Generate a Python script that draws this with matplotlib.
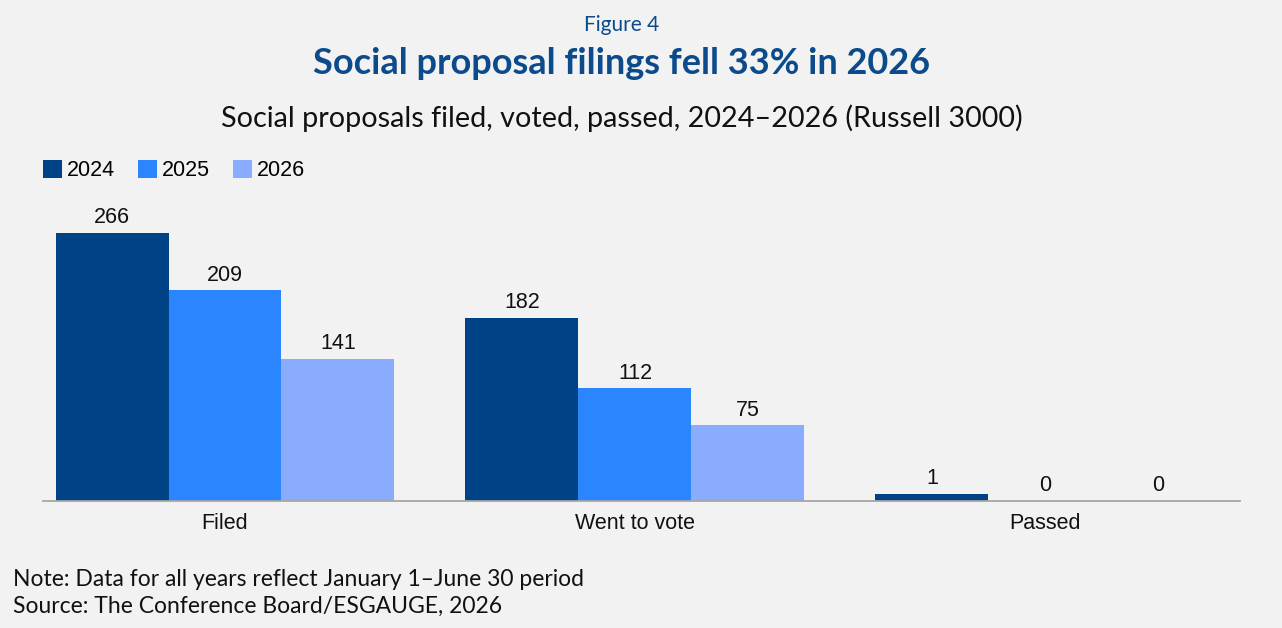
import matplotlib
matplotlib.use("Agg")
import matplotlib.pyplot as plt
from matplotlib.patches import Patch
import numpy as np

categories = ["Filed", "Went to vote", "Passed"]
years = ["2024", "2025", "2026"]
v2024 = [266, 182, 1]
v2025 = [209, 112, 0]
v2026 = [141, 75, 0]
colors = ["#004286", "#2A85FF", "#8AACFF"]

BG = "#F2F2F2"
TITLE_BLUE = "#0B4A8B"
FONT_TXT = ["Lato", "DejaVu Sans"]
FONT_NUM = ["Liberation Sans", "DejaVu Sans"]

fig = plt.figure(figsize=(12.82, 6.28), dpi=100, facecolor=BG)
ax = fig.add_axes([43/1282, (628-501)/628, (1240-43)/1282, (501-200)/628])
ax.set_facecolor(BG)

x = np.arange(len(categories))
w = 0.2756
series = [v2024, v2025, v2026]
min_visible = 7  # minimum drawn height for non-zero bars
for i, (vals, c) in enumerate(zip(series, colors)):
    vals = np.array(vals, dtype=float)
    shown = np.where(vals > 0, np.maximum(vals, min_visible), 0)
    pos = x + (i - 1) * w
    ax.bar(pos, shown, width=w, color=c, linewidth=0, zorder=2)
    for p, v, s in zip(pos, vals, shown):
        ax.annotate(f"{int(v)}", (p, s), xytext=(0, 3.3), textcoords="offset points",
                    ha="center", va="bottom", fontsize=15.5, family=FONT_NUM, color="#111111")

ax.set_xlim(-0.444, 2.476)
ax.set_ylim(0, 298.8)
for s in ["top", "right", "left"]:
    ax.spines[s].set_visible(False)
ax.spines["bottom"].set_color("#A6A6A6")
ax.spines["bottom"].set_linewidth(1.3)
ax.set_yticks([])
ax.set_xticks(x)
ax.set_xticklabels(categories, fontsize=15.5, family=FONT_NUM, color="#111111")
ax.tick_params(axis="x", length=0, pad=8.5)

handles = [Patch(facecolor=c, edgecolor="none", label=y) for c, y in zip(colors, years)]
fig.legend(handles=handles, loc="upper left", bbox_to_anchor=(43/1282, 1 - 160/628),
           ncol=3, frameon=False, prop={"family": FONT_NUM, "size": 15.5},
           handlelength=0.88, handleheight=0.88, handletextpad=0.23, columnspacing=1.07,
           borderaxespad=0, borderpad=0)

CX = 622/1282
fig.text(CX, 1 - 25/628, "Figure 4", ha="center", va="center", fontsize=15,
         family=FONT_TXT, color=TITLE_BLUE)
fig.text(CX, 1 - 63/628, "Social proposal filings fell 33% in 2026", ha="center", va="center",
         fontsize=26, family=FONT_TXT, weight="bold", color=TITLE_BLUE)
fig.text(CX, 1 - 118/628, "Social proposals filed, voted, passed, 2024\u20132026 (Russell 3000)",
         ha="center", va="center", fontsize=20.7, family=FONT_TXT, color="#111111")
fig.text(13/1282, 1 - 579/628, "Note: Data for all years reflect January 1\u2013June 30 period",
         ha="left", va="center", fontsize=16.5, family=FONT_TXT, color="#111111")
fig.text(13/1282, 1 - 606/628, "Source: The Conference Board/ESGAUGE, 2026",
         ha="left", va="center", fontsize=16.5, family=FONT_TXT, color="#111111")

fig.savefig("out.png", dpi=100, facecolor=BG)
